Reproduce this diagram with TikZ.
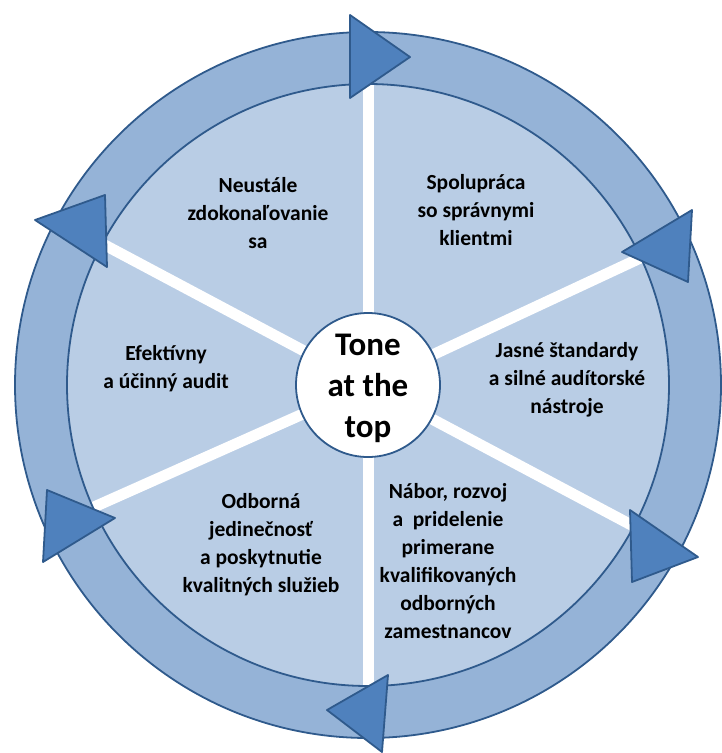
\documentclass[tikz,border=0pt]{standalone}
\usepackage{fontspec}
\setmainfont{Carlito}
\usetikzlibrary{calc}
\definecolor{pieblue}{HTML}{B9CDE5}
\definecolor{ringblue}{HTML}{95B3D7}
\definecolor{edgeblue}{HTML}{2F5A8C}
\definecolor{tribl}{HTML}{4F81BD}
\definecolor{triedge}{HTML}{2F5A8C}
\begin{document}
\begin{tikzpicture}[x=1pt,y=-1pt,
  lbl/.style={align=center,font=\fontsize{21.5}{28}\selectfont\bfseries,text=black,inner sep=0pt},
  tone/.style={align=center,font=\fontsize{33}{41}\selectfont\bfseries,text=black,inner sep=0pt},
  divider/.style={white,line width=11pt},
  ringline/.style={edgeblue,line width=1.8pt},
  tri/.style={fill=tribl,draw=triedge,line width=1.8pt,line join=round}]
\useasboundingbox (0,0) rectangle (721,753);
\coordinate (c) at (368,385);
% pie
\fill[pieblue] (c) circle (301);
% dividers
\foreach \a in {-90,-25,28,90,156,-152}
  \draw[divider] (c) -- ($(c)+(\a:301)$);
% ring
\fill[ringblue,even odd rule] (c) circle (353) (c) circle (301);
\draw[ringline] (c) circle (353);
\draw[ringline] (c) circle (301);
% centre circle
\node[circle,fill=white,draw=edgeblue,line width=1.8pt,minimum size=144pt,inner sep=0pt] (hub) at (c) {};
\node[tone] (tt) at (368,388) {Tone\\at the\\top};
% arrowheads
\coordinate (a1) at (350,15);  \coordinate (b1) at (350,98);  \coordinate (p1) at (410,57);
\coordinate (a2) at (692,210); \coordinate (b2) at (688,282); \coordinate (p2) at (622,252);
\coordinate (a3) at (630,510); \coordinate (b3) at (632,582); \coordinate (p3) at (698,557);
\coordinate (a4) at (388,675); \coordinate (b4) at (382,752); \coordinate (p4) at (327,710);
\coordinate (a5) at (47,490);  \coordinate (b5) at (43,562);  \coordinate (p5) at (115,518);
\coordinate (a6) at (105,195); \coordinate (b6) at (107,267); \coordinate (p6) at (35,220);
\foreach \i in {1,...,6}
  \draw[tri] (a\i) -- (b\i) -- (p\i) -- cycle;
% labels
\node[lbl] (n1) at (258,213) {Neustále\\zdokonaľovanie\\sa};
\node[lbl] (n2) at (476,210) {Spolupráca\\so správnymi\\klientmi};
\node[lbl] (n3) at (567,380) {Jasné štandardy\\a silné audítorské\\nástroje};
\node[lbl] (n4) at (166,369) {Efektívny\\a účinný audit};
\node[lbl] (n5) at (261,545) {Odborná\\jedinečnosť\\a poskytnutie\\kvalitných služieb};
\node[lbl] (n6) at (448,561) {Nábor, rozvoj\\a~ pridelenie\\primerane\\kvalifikovaných\\odborných\\zamestnancov};
\end{tikzpicture}
\end{document}
